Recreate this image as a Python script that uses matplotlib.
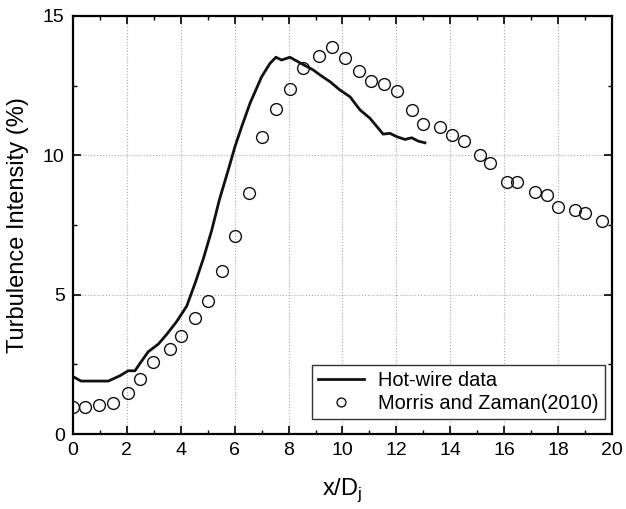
import numpy as np
import matplotlib.pyplot as plt
from matplotlib.ticker import MultipleLocator

plt.rcParams['font.family'] = ['Liberation Sans', 'DejaVu Sans']

# Hot-wire data (solid line)
hw_x = [0.0, 0.3, 0.8, 1.31, 1.74, 2.05, 2.3, 2.49, 2.79, 3.17, 3.48, 3.85, 4.22,
        4.53, 4.84, 5.15, 5.43, 5.76, 6.01, 6.26, 6.57, 7.0, 7.31, 7.53, 7.74,
        8.05, 8.42, 8.92, 9.17, 9.54, 9.91, 10.28, 10.65, 11.02, 11.33, 11.51,
        11.76, 12.01, 12.32, 12.57, 12.81, 13.06]
hw_y = [2.06, 1.9, 1.9, 1.9, 2.09, 2.27, 2.27, 2.54, 2.95, 3.23, 3.58, 4.04, 4.59,
        5.41, 6.3, 7.32, 8.4, 9.47, 10.31, 11.03, 11.87, 12.82, 13.3, 13.52, 13.42,
        13.52, 13.32, 13.06, 12.88, 12.64, 12.34, 12.1, 11.63, 11.33, 10.97, 10.76,
        10.79, 10.67, 10.57, 10.63, 10.51, 10.45]

# Morris and Zaman (2010) (open circles)
mz_x = [0.0, 0.43, 0.98, 1.5, 2.03, 2.5, 2.97, 3.6, 4.02, 4.51, 5.02, 5.54, 6.02,
        6.54, 7.01, 7.54, 8.05, 8.53, 9.13, 9.61, 10.09, 10.6, 11.06, 11.54, 12.03,
        12.57, 12.99, 13.62, 14.07, 14.5, 15.11, 15.48, 16.09, 16.48, 17.14, 17.59,
        18.01, 18.63, 19.0, 19.62]
mz_y = [0.98, 0.98, 1.03, 1.1, 1.46, 1.97, 2.58, 3.05, 3.5, 4.16, 4.76, 5.86, 7.12,
        8.66, 10.67, 11.66, 12.38, 13.12, 13.57, 13.9, 13.48, 13.02, 12.65, 12.55,
        12.32, 11.63, 11.13, 11.03, 10.74, 10.51, 10.02, 9.73, 9.05, 9.03, 8.69, 8.56,
        8.13, 8.04, 7.94, 7.64]

fig = plt.figure(figsize=(6.26, 5.09), dpi=100)
ax = fig.add_axes([0.1166, 0.1473, 0.861, 0.8213])

ax.plot(hw_x, hw_y, color='#111111', lw=2, label='Hot-wire data')
ax.plot(mz_x, mz_y, 'o', mfc='none', mec='#111111', mew=1.0, ms=8.5,
        label='Morris and Zaman(2010)')

ax.set_xlim(0, 20)
ax.set_ylim(0, 15)
ax.xaxis.set_major_locator(MultipleLocator(2))
ax.xaxis.set_minor_locator(MultipleLocator(1))
ax.yaxis.set_major_locator(MultipleLocator(5))
ax.yaxis.set_minor_locator(MultipleLocator(2.5))
ax.tick_params(which='both', direction='in', top=True, right=True, labelsize=14, pad=6)
ax.tick_params(which='major', length=6, width=1.2)
ax.tick_params(which='minor', length=3, width=1.0)
for s in ax.spines.values():
    s.set_linewidth(1.6)

ax.grid(True, which='major', linestyle=':', color='#aaaaaa', linewidth=0.8)

ax.set_xlabel('x/D$_\\mathregular{j}$', fontsize=17, labelpad=12)
ax.set_ylabel('Turbulence Intensity (%)', fontsize=17, labelpad=10)

leg = ax.legend(loc='lower right', bbox_to_anchor=(0.987, 0.036), borderaxespad=0,
                fontsize=14.4, fancybox=False, framealpha=1, edgecolor='#333333',
                handlelength=2.3, labelspacing=0.2, borderpad=0.3,
                handletextpad=0.7, markerscale=0.75)
leg.get_frame().set_linewidth(1.0)

fig.savefig('out.png', dpi=100)
